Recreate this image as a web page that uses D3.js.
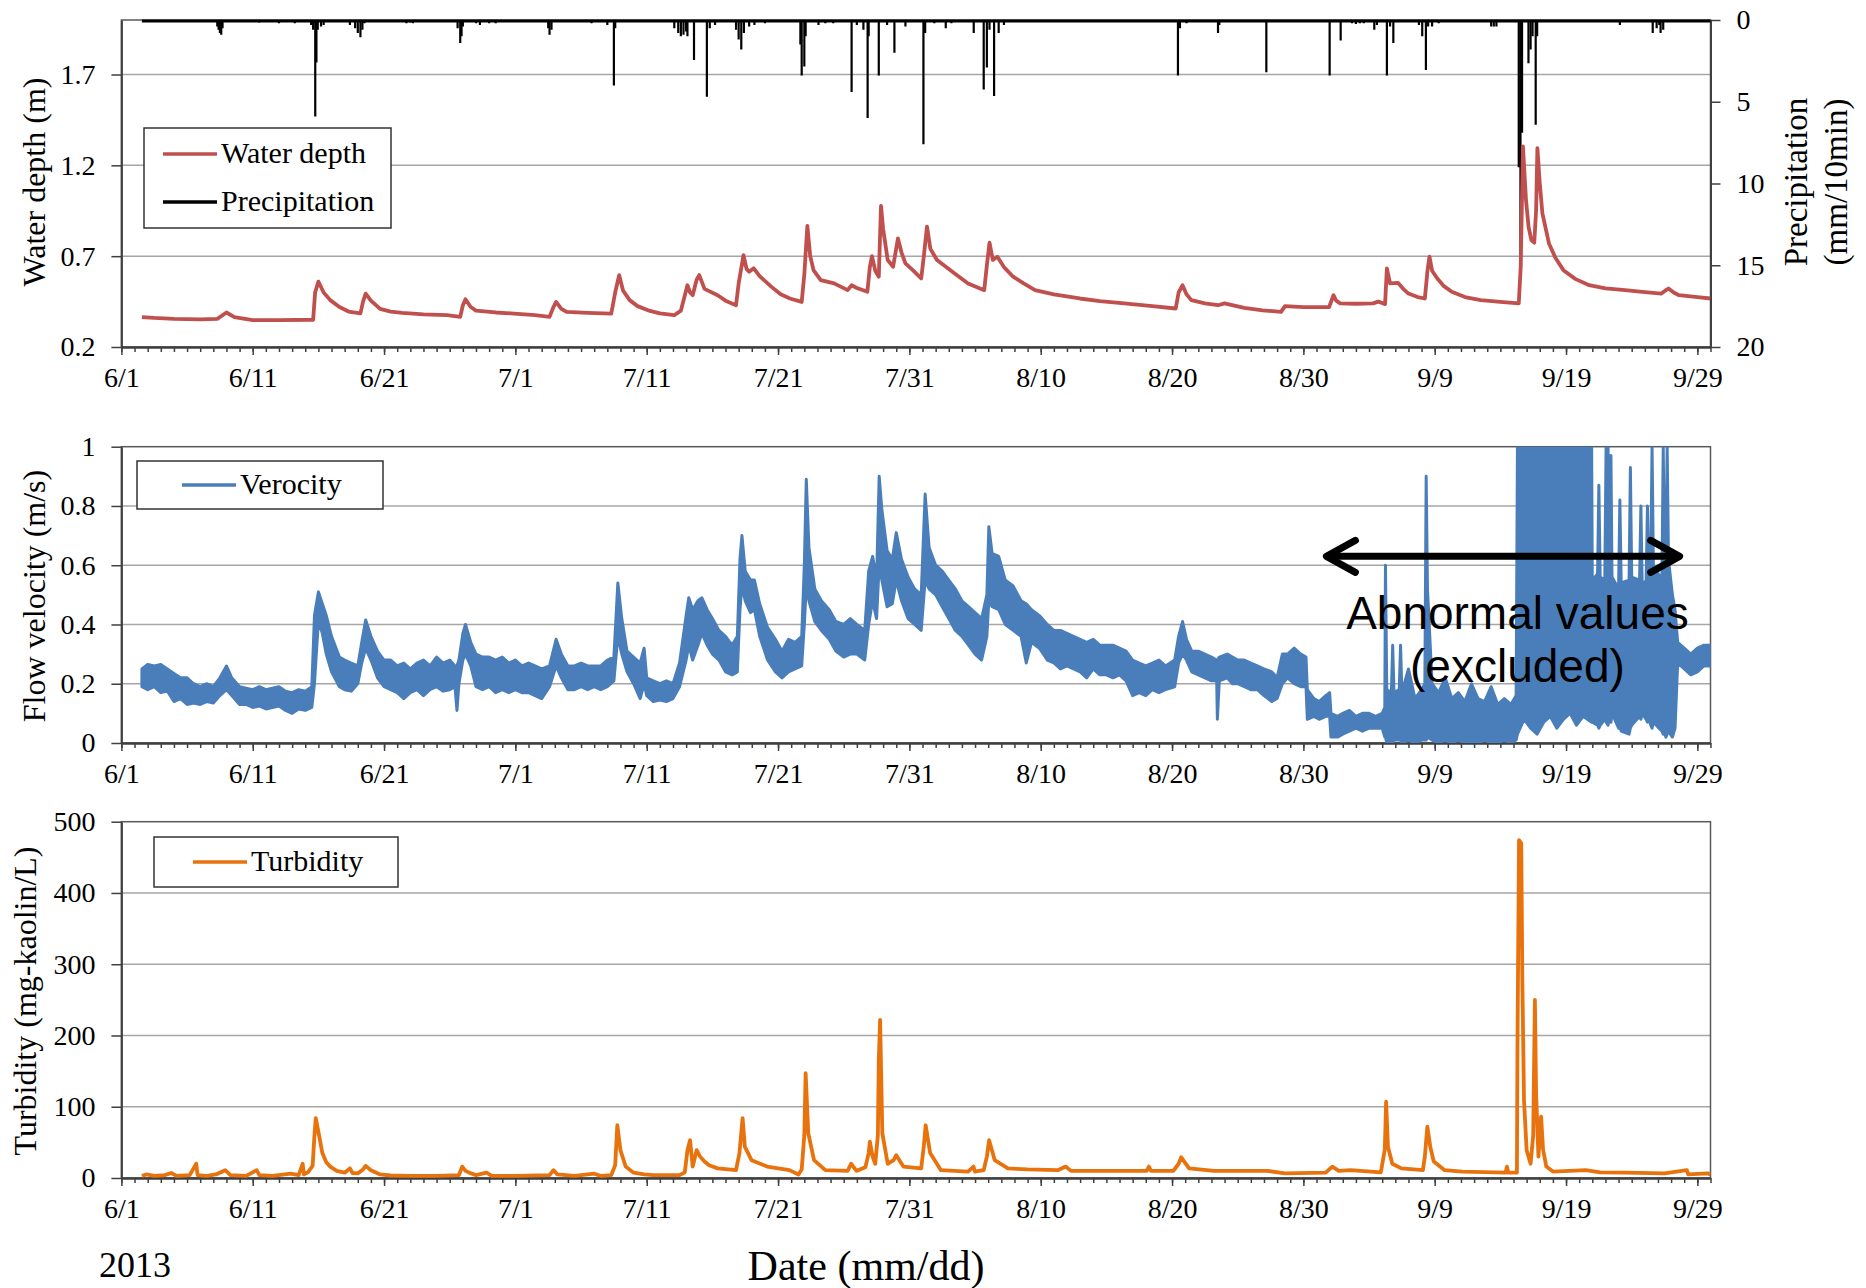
<!DOCTYPE html>
<html>
<head>
<meta charset="utf-8">
<script src="https://cdnjs.cloudflare.com/ajax/libs/d3/7.8.5/d3.min.js"></script>
<style>
body { margin: 0; background: #fff; }
svg text { font-family: 'Liberation Serif', 'Times New Roman', serif; fill: #000; }
</style>
</head>
<body>
<div id="chart"></div>
<script>
// days counted from 6/1 00:00 (2013)
const dateLabels = ['6/1', '6/11', '6/21', '7/1', '7/11', '7/21', '7/31', '8/10', '8/20', '8/30', '9/9', '9/19', '9/29'];
const dateLabelDays = [0, 10, 20, 30, 40, 50, 60, 70, 80, 90, 100, 110, 120];

const depthTicks = [0.2, 0.7, 1.2, 1.7];
const precipTicks = [0, 5, 10, 15, 20];
const velTicks = [0, 0.2, 0.4, 0.6, 0.8, 1];
const turbTicks = [0, 100, 200, 300, 400, 500];

// water depth (m): [day, value]
const depth = [
  [1.56, 0.365], [2.5, 0.36], [4, 0.355], [6, 0.352], [7.3, 0.355], [8.0, 0.39], [8.6, 0.365], [10, 0.348],
  [12, 0.348], [14.6, 0.35], [14.75, 0.50], [15.0, 0.56], [15.4, 0.50], [15.9, 0.458], [16.6, 0.42],
  [17.3, 0.395], [18.2, 0.385], [18.4, 0.45], [18.6, 0.494], [19.0, 0.455], [19.7, 0.41], [20.5, 0.395],
  [21.4, 0.388], [23, 0.38], [24.8, 0.375], [25.8, 0.366], [26.0, 0.43], [26.2, 0.463], [26.6, 0.42],
  [27.0, 0.40], [28.5, 0.39], [29.9, 0.384], [31.5, 0.375], [32.6, 0.366], [32.9, 0.42], [33.1, 0.448],
  [33.5, 0.41], [33.9, 0.393], [35.5, 0.388], [37.3, 0.384], [37.6, 0.50], [37.9, 0.596], [38.2, 0.51],
  [38.7, 0.458], [39.3, 0.425], [40.1, 0.402], [41, 0.385], [42.1, 0.375], [42.6, 0.40], [43.1, 0.54],
  [43.3, 0.50], [43.5, 0.485], [43.8, 0.57], [44.0, 0.596], [44.4, 0.52], [45.4, 0.485], [46.0, 0.455],
  [46.8, 0.43], [47.0, 0.55], [47.37, 0.706], [47.6, 0.63], [47.8, 0.614], [48.15, 0.633], [48.6, 0.59],
  [49.5, 0.531], [50.2, 0.49], [50.9, 0.467], [51.8, 0.448], [52.0, 0.6], [52.23, 0.866], [52.45, 0.7],
  [52.7, 0.623], [53.25, 0.568], [54.27, 0.55], [55.3, 0.513], [55.6, 0.54], [56.0, 0.525], [56.8, 0.504],
  [56.99, 0.64], [57.15, 0.70], [57.4, 0.62], [57.67, 0.587], [57.84, 0.977], [58.0, 0.85], [58.35, 0.679],
  [58.76, 0.642], [59.13, 0.798], [59.4, 0.72], [59.7, 0.66], [60.3, 0.62], [60.9, 0.577], [61.1, 0.70],
  [61.34, 0.863], [61.6, 0.74], [62.1, 0.679], [62.8, 0.64], [63.45, 0.605], [64.47, 0.55], [65.7, 0.513],
  [65.9, 0.65], [66.1, 0.774], [66.35, 0.68], [66.7, 0.697], [67.2, 0.64], [67.9, 0.587], [68.7, 0.55],
  [69.57, 0.513], [71, 0.49], [72.97, 0.467], [74.5, 0.453], [76.37, 0.44], [78.5, 0.425], [80.28, 0.412],
  [80.5, 0.50], [80.8, 0.54], [81.1, 0.49], [81.47, 0.458], [82.5, 0.44], [83.5, 0.43], [84.0, 0.44],
  [85.5, 0.415], [86.9, 0.402], [88.3, 0.393], [88.6, 0.425], [90.0, 0.42], [91.96, 0.42], [92.29, 0.485],
  [92.5, 0.455], [92.8, 0.44], [94, 0.438], [95.3, 0.44], [95.7, 0.45], [96.22, 0.436], [96.36, 0.633],
  [96.6, 0.55], [97.2, 0.553], [97.6, 0.52], [98.0, 0.494], [98.7, 0.475], [99.25, 0.467], [99.45, 0.62],
  [99.6, 0.697], [99.8, 0.62], [100.2, 0.577], [100.7, 0.535], [101.3, 0.504], [102.3, 0.475], [103.5, 0.458],
  [105, 0.448], [106.4, 0.44], [106.55, 0.642], [106.72, 1.304], [106.95, 1.01], [107.15, 0.86], [107.36, 0.789],
  [107.58, 0.774], [107.72, 0.95], [107.82, 1.295], [108.0, 1.10], [108.2, 0.936], [108.7, 0.77], [109.2, 0.69],
  [109.8, 0.623], [110.7, 0.575], [111.76, 0.54], [113, 0.523], [114.5, 0.513], [116, 0.502], [117.26, 0.494],
  [117.55, 0.51], [117.8, 0.522], [118.2, 0.50], [118.6, 0.485], [120, 0.475], [121, 0.467]
];

// precipitation (mm/10min): [day, value]
const precip = [
  [1.8, 0.1], [2.5, 0.1], [4.5, 0.1], [7.3, 0.4], [7.4, 0.6], [7.5, 0.8], [7.6, 0.9], [7.7, 0.5],
  [10.5, 0.15], [12.0, 0.2], [13.2, 0.2], [14.45, 0.3], [14.6, 0.6], [14.76, 5.9], [14.85, 2.6], [14.95, 0.6],
  [15.2, 0.4], [15.4, 0.3], [17.4, 0.3], [17.8, 0.5], [18.0, 0.8], [18.2, 1.05], [18.35, 0.6], [18.5, 0.2],
  [21.7, 0.2], [22.0, 0.15], [22.2, 0.2], [25.6, 0.5], [25.8, 1.4], [25.9, 1.0], [26.0, 0.4],
  [27.0, 0.2], [27.3, 0.3], [28.0, 0.2], [28.5, 0.2], [32.5, 0.5], [32.6, 0.9], [32.75, 0.6],
  [35.8, 0.2], [37.0, 0.3], [37.5, 4.0], [37.6, 0.5], [41.3, 0.1], [42.1, 0.5], [42.4, 0.8], [42.6, 1.0],
  [42.8, 0.9], [43.0, 0.7], [43.1, 1.0], [43.6, 2.45], [44.58, 4.7], [44.8, 0.5], [45.2, 0.3],
  [46.8, 0.6], [47.0, 1.2], [47.2, 1.8], [47.4, 0.8], [47.8, 0.4], [48.2, 0.3], [49.0, 0.2],
  [51.7, 1.5], [51.8, 3.4], [52.0, 2.85], [52.1, 1.0], [53.08, 0.3], [53.6, 0.2], [54.2, 0.2],
  [55.6, 4.4], [56.0, 0.3], [56.5, 0.6], [56.82, 6.0], [56.9, 1.0], [57.67, 3.4], [58.3, 0.3],
  [58.86, 2.0], [59.7, 0.4], [61.07, 7.6], [61.2, 0.8], [61.9, 0.2], [62.77, 0.5], [63.2, 0.2],
  [64.9, 0.8], [65.66, 4.25], [65.9, 2.9], [66.1, 0.6], [66.45, 4.65], [66.8, 0.8], [67.2, 0.3],
  [80.45, 3.4], [80.6, 0.5], [81.1, 0.2], [83.5, 0.8], [83.6, 0.3], [85.4, 0.1], [87.18, 3.2],
  [92.0, 3.4], [92.84, 1.26], [93.7, 0.2], [94.0, 0.25], [94.3, 0.2], [94.6, 0.2], [95.4, 0.6], [95.6, 0.3],
  [96.36, 3.4], [96.6, 0.4], [96.85, 1.4], [98.8, 0.3], [99.05, 1.0], [99.33, 3.06], [99.5, 0.4],
  [99.8, 0.4], [100.3, 0.2], [104.3, 0.4], [104.5, 0.4], [104.7, 0.4], [106.4, 9.0], [106.53, 15.2],
  [106.65, 6.9], [107.14, 2.65], [107.3, 1.8], [107.45, 1.0], [107.69, 6.4], [107.8, 1.0],
  [114.1, 0.3], [116.6, 0.8], [116.9, 0.5], [117.1, 0.3], [117.2, 0.8], [117.4, 0.6]
];

// flow velocity (m/s): [day, low, high] of the noisy band
const velocity = [
  [1.56, 0.19, 0.25], [2.0, 0.18, 0.265], [2.5, 0.19, 0.26], [3.0, 0.17, 0.265], [3.5, 0.175, 0.25],
  [4.0, 0.14, 0.235], [4.5, 0.15, 0.22], [5.0, 0.13, 0.22], [5.5, 0.135, 0.20], [6.0, 0.13, 0.19],
  [6.5, 0.14, 0.2], [7.0, 0.135, 0.19], [7.5, 0.16, 0.22], [8.0, 0.18, 0.26], [8.4, 0.16, 0.22],
  [9.0, 0.13, 0.19], [9.5, 0.13, 0.185], [10.0, 0.12, 0.18], [10.5, 0.125, 0.19], [11.0, 0.115, 0.18],
  [11.5, 0.12, 0.185], [12.0, 0.125, 0.19], [12.5, 0.11, 0.175], [13.0, 0.10, 0.17], [13.5, 0.115, 0.18],
  [14.0, 0.11, 0.175], [14.5, 0.12, 0.19], [14.7, 0.2, 0.43], [15.0, 0.41, 0.51], [15.3, 0.37, 0.47],
  [15.6, 0.30, 0.43], [16.0, 0.24, 0.36], [16.6, 0.19, 0.29], [17.0, 0.18, 0.28], [17.5, 0.175, 0.27],
  [18.0, 0.20, 0.26], [18.3, 0.27, 0.34], [18.6, 0.32, 0.415], [19.0, 0.28, 0.36], [19.5, 0.22, 0.31],
  [20.0, 0.19, 0.28], [20.5, 0.18, 0.28], [21.0, 0.17, 0.26], [21.5, 0.15, 0.27], [22.0, 0.17, 0.25],
  [22.5, 0.18, 0.27], [23.0, 0.16, 0.28], [23.5, 0.18, 0.26], [24.0, 0.19, 0.29], [24.5, 0.175, 0.27],
  [25.0, 0.18, 0.28], [25.4, 0.19, 0.26], [25.55, 0.11, 0.26], [25.7, 0.2, 0.28], [26.0, 0.28, 0.37],
  [26.2, 0.30, 0.40], [26.6, 0.26, 0.34], [27.0, 0.19, 0.30], [27.5, 0.18, 0.29], [28.0, 0.19, 0.29],
  [28.5, 0.17, 0.28], [29.0, 0.18, 0.29], [29.5, 0.17, 0.27], [30.0, 0.18, 0.28], [30.5, 0.17, 0.26],
  [31.0, 0.17, 0.27], [31.5, 0.16, 0.26], [32.0, 0.15, 0.25], [32.6, 0.19, 0.26], [33.1, 0.26, 0.35],
  [33.5, 0.22, 0.30], [34.0, 0.18, 0.26], [34.5, 0.18, 0.26], [35.0, 0.19, 0.27], [35.5, 0.18, 0.26],
  [36.0, 0.19, 0.26], [36.5, 0.18, 0.26], [37.0, 0.19, 0.28], [37.5, 0.21, 0.29], [37.8, 0.36, 0.54],
  [38.1, 0.30, 0.42], [38.5, 0.24, 0.31], [39.0, 0.20, 0.29], [39.5, 0.15, 0.27], [39.8, 0.20, 0.32],
  [40.0, 0.16, 0.22], [40.5, 0.14, 0.21], [41.0, 0.145, 0.20], [41.5, 0.14, 0.21], [42.0, 0.15, 0.20],
  [42.5, 0.19, 0.27], [43.0, 0.28, 0.43], [43.2, 0.33, 0.49], [43.5, 0.28, 0.45], [43.9, 0.33, 0.48],
  [44.2, 0.37, 0.49], [44.6, 0.33, 0.45], [45.0, 0.30, 0.42], [45.5, 0.28, 0.38], [46.0, 0.24, 0.36],
  [46.5, 0.23, 0.33], [46.9, 0.24, 0.36], [47.1, 0.45, 0.62], [47.25, 0.53, 0.70], [47.5, 0.48, 0.58],
  [47.9, 0.44, 0.55], [48.2, 0.45, 0.55], [48.6, 0.36, 0.47], [49.2, 0.28, 0.39], [49.8, 0.24, 0.35],
  [50.3, 0.22, 0.31], [50.8, 0.24, 0.35], [51.3, 0.25, 0.34], [51.8, 0.26, 0.36], [52.0, 0.40, 0.60],
  [52.15, 0.53, 0.89], [52.35, 0.48, 0.66], [52.8, 0.41, 0.52], [53.3, 0.38, 0.48], [53.9, 0.35, 0.45],
  [54.4, 0.31, 0.41], [55.0, 0.29, 0.40], [55.5, 0.30, 0.42], [56.0, 0.30, 0.40], [56.6, 0.28, 0.38],
  [56.9, 0.40, 0.58], [57.2, 0.48, 0.63], [57.5, 0.42, 0.55], [57.7, 0.60, 0.90], [57.9, 0.55, 0.79],
  [58.3, 0.46, 0.65], [58.7, 0.47, 0.62], [59.0, 0.55, 0.71], [59.4, 0.48, 0.62], [59.9, 0.42, 0.56],
  [60.4, 0.40, 0.52], [60.9, 0.38, 0.50], [61.2, 0.55, 0.84], [61.5, 0.52, 0.66], [62.0, 0.50, 0.60],
  [62.5, 0.46, 0.58], [63.0, 0.42, 0.55], [63.5, 0.38, 0.52], [64.0, 0.36, 0.48], [64.5, 0.33, 0.46],
  [65.0, 0.30, 0.44], [65.5, 0.28, 0.42], [65.9, 0.36, 0.50], [66.05, 0.48, 0.73], [66.3, 0.46, 0.64],
  [66.8, 0.45, 0.63], [67.3, 0.40, 0.55], [67.9, 0.38, 0.53], [68.5, 0.36, 0.48], [68.9, 0.27, 0.47],
  [69.3, 0.34, 0.45], [69.9, 0.32, 0.43], [70.5, 0.28, 0.40], [71.0, 0.27, 0.38], [71.5, 0.25, 0.38],
  [72.0, 0.26, 0.37], [72.5, 0.25, 0.36], [73.0, 0.24, 0.35], [73.5, 0.22, 0.34], [74.0, 0.25, 0.35],
  [74.5, 0.23, 0.33], [75.0, 0.23, 0.33], [75.5, 0.22, 0.33], [76.0, 0.23, 0.32], [76.5, 0.21, 0.31],
  [77.0, 0.16, 0.28], [77.5, 0.17, 0.27], [78.0, 0.16, 0.26], [78.5, 0.18, 0.27], [79.0, 0.17, 0.28],
  [79.5, 0.18, 0.26], [80.2, 0.19, 0.28], [80.5, 0.27, 0.36], [80.8, 0.30, 0.41], [81.1, 0.28, 0.35],
  [81.5, 0.24, 0.31], [82.0, 0.23, 0.31], [82.5, 0.22, 0.30], [83.0, 0.21, 0.29], [83.4, 0.21, 0.28],
  [83.45, 0.08, 0.28], [83.6, 0.21, 0.29], [84.2, 0.22, 0.30], [84.6, 0.20, 0.29], [85.0, 0.20, 0.28],
  [85.5, 0.19, 0.28], [86.0, 0.18, 0.27], [86.5, 0.18, 0.26], [87.0, 0.16, 0.25], [87.6, 0.14, 0.24],
  [88.0, 0.15, 0.22], [88.4, 0.20, 0.30], [88.8, 0.22, 0.30], [89.3, 0.20, 0.32], [89.8, 0.19, 0.30],
  [90.2, 0.19, 0.29], [90.3, 0.08, 0.18], [90.8, 0.09, 0.15], [91.2, 0.08, 0.14], [91.7, 0.09, 0.16],
  [92.0, 0.09, 0.17], [92.1, 0.02, 0.10], [92.6, 0.02, 0.09], [93.0, 0.03, 0.10], [93.5, 0.04, 0.11],
  [94.0, 0.05, 0.09], [94.5, 0.04, 0.10], [95.0, 0.05, 0.10], [95.5, 0.05, 0.09], [96.0, 0.05, 0.10],
  [96.2, 0.02, 0.12], [96.25, 0.02, 0.60], [96.35, 0.0, 0.18], [96.7, 0.0, 0.17], [96.8, 0.0, 0.33],
  [96.9, 0.01, 0.17], [97.3, 0.01, 0.18], [97.4, 0.01, 0.33], [97.5, 0.0, 0.17], [98.0, 0.01, 0.25],
  [98.5, 0.0, 0.15], [99.0, 0.01, 0.18], [99.25, 0.01, 0.2], [99.35, 0.01, 0.90], [99.45, 0.02, 0.52],
  [99.8, 0.01, 0.20], [100.3, 0.0, 0.17], [100.8, 0.01, 0.22], [101.3, 0.0, 0.15], [101.8, 0.01, 0.17],
  [102.3, 0.0, 0.14], [102.8, 0.0, 0.20], [103.3, 0.0, 0.15], [103.8, 0.01, 0.14], [104.3, 0.0, 0.19],
  [104.8, 0.0, 0.13], [105.3, 0.01, 0.15], [105.8, 0.0, 0.13], [106.2, 0.01, 0.16],
  [106.3, 0.03, 1.0], [106.8, 0.08, 1.0], [107.3, 0.05, 1.0], [107.8, 0.03, 1.0], [108.3, 0.07, 1.0],
  [108.8, 0.09, 1.0], [109.3, 0.05, 1.0], [109.8, 0.08, 1.0], [110.3, 0.1, 1.0], [110.8, 0.06, 1.0],
  [111.3, 0.09, 1.0], [111.95, 0.07, 1.0], [112.0, 0.07, 0.55], [112.4, 0.06, 0.57], [112.5, 0.05, 0.87],
  [112.6, 0.06, 0.56], [112.95, 0.08, 0.55], [113.05, 0.07, 1.0], [113.2, 0.06, 1.0], [113.3, 0.1, 0.55],
  [113.35, 0.08, 0.58], [113.42, 0.07, 0.97], [113.5, 0.1, 0.56], [114.0, 0.05, 0.52], [114.1, 0.06, 0.82],
  [114.2, 0.04, 0.54], [114.8, 0.03, 0.55], [114.9, 0.05, 0.93], [115.0, 0.06, 0.56], [115.6, 0.09, 0.55],
  [115.7, 0.08, 0.80], [115.8, 0.1, 0.53], [116.1, 0.08, 0.55], [116.2, 0.07, 0.80], [116.3, 0.09, 0.56],
  [116.45, 0.06, 0.6], [116.55, 0.05, 1.0], [116.65, 0.07, 0.6], [117.3, 0.04, 0.55], [117.4, 0.03, 1.0],
  [117.5, 0.04, 0.62], [117.6, 0.02, 0.6], [117.7, 0.03, 1.0], [117.8, 0.04, 0.62], [118.1, 0.02, 0.5],
  [118.3, 0.05, 0.45], [118.5, 0.27, 0.34], [119.0, 0.25, 0.32], [119.5, 0.23, 0.30], [120.0, 0.24, 0.32],
  [120.5, 0.26, 0.33], [121.0, 0.26, 0.33]
];

// turbidity (mg-kaolin/L): [day, value]
const turbidity = [
  [1.56, 3], [1.9, 5], [2.5, 3], [3.3, 4], [3.8, 7], [4.2, 3], [5.2, 4], [5.7, 20], [5.8, 4], [6.5, 3],
  [7.2, 5], [7.9, 11], [8.3, 4], [9.5, 3], [10.3, 11], [10.5, 4], [11.5, 3], [12.9, 6], [13.5, 4],
  [13.8, 20], [13.9, 5], [14.2, 8], [14.56, 17], [14.7, 60], [14.8, 84], [15.07, 58], [15.3, 35],
  [15.6, 22], [15.9, 16], [16.4, 10], [17.0, 7.5], [17.4, 13.5], [17.6, 7], [18.0, 6.5], [18.4, 12],
  [18.6, 17], [19.0, 11], [19.7, 5], [20.5, 3.5], [22, 3], [24, 3], [25.7, 4], [25.95, 16], [26.2, 10],
  [26.5, 7.5], [27.0, 4], [27.8, 7.5], [28.2, 3], [30, 3], [32.6, 4], [32.9, 11], [33.2, 5], [34.5, 3],
  [36.0, 6], [36.5, 3], [37.3, 4], [37.6, 18], [37.76, 74], [38.0, 39], [38.4, 16], [39.0, 7.5],
  [39.8, 5], [40.5, 4], [42.5, 4], [42.9, 8], [43.1, 39], [43.3, 53], [43.5, 16], [43.8, 39], [44.07, 30],
  [44.4, 23], [44.75, 18], [45.4, 13.5], [46.8, 11], [47.06, 35], [47.3, 84], [47.47, 44], [47.98, 25],
  [49.17, 16], [50.87, 11], [51.55, 5], [51.8, 12], [52.0, 60], [52.1, 147], [52.3, 63], [52.74, 25],
  [53.6, 11], [55.3, 10], [55.56, 20], [55.97, 10], [56.65, 15], [56.9, 35], [56.99, 51], [57.2, 30],
  [57.4, 20], [57.6, 60], [57.67, 165], [57.77, 222], [57.94, 63], [58.35, 20], [58.8, 25], [59.0, 32],
  [59.54, 16], [60.9, 13.5], [61.1, 45], [61.24, 74], [61.58, 35], [62.4, 11], [64.47, 9], [64.88, 16],
  [65.0, 9], [65.3, 10], [65.66, 11], [65.9, 30], [66.07, 53], [66.5, 25], [67.5, 13.5], [69, 12],
  [71.3, 11], [71.9, 16], [72.3, 10], [78.07, 10], [78.24, 16], [78.4, 10], [80.1, 10], [80.5, 20],
  [80.7, 29], [81.3, 13.5], [83.2, 10], [87.25, 10], [88.6, 6.5], [91.7, 7.5], [92.2, 16], [92.7, 10],
  [93.6, 11], [95.9, 8], [96.2, 40], [96.3, 107], [96.44, 44], [96.77, 20], [97.46, 13.5], [99.1, 11],
  [99.25, 30], [99.44, 72], [99.66, 44], [99.93, 23], [100.76, 11], [102.1, 9], [105.4, 7.5], [105.5, 16],
  [105.6, 7.5], [106.26, 7.5], [106.3, 180], [106.42, 474], [106.59, 470], [106.67, 282], [106.8, 109],
  [107.0, 39], [107.3, 20], [107.5, 60], [107.63, 250], [107.72, 119], [107.9, 30], [108.1, 86],
  [108.25, 40], [108.5, 16], [109.0, 9], [111.5, 11], [112.6, 8], [114.5, 7.5], [117.5, 6.5], [119.2, 11],
  [119.3, 5], [120.8, 6.5], [121, 5]
];

// annotation of the excluded velocity period, in data units
const abnormalSpan = [91.6, 118.8];
const abnormalLevel = 0.63;

const W = 1866, H = 1288;
const svg = d3.select('#chart').append('svg').attr('width', W).attr('height', H);
svg.append('rect').attr('width', W).attr('height', H).attr('fill', '#fff');

const x = d3.scaleLinear().domain([0, 121]).range([121.4, 1710.5]);
const AXIS = '#404040', GRID = '#a6a6a6';
const SERIF = "'Liberation Serif', 'Times New Roman', serif";

function styleAxis(g) {
  g.attr('font-family', SERIF).attr('font-size', 28);
  g.select('.domain').attr('stroke', AXIS).attr('stroke-width', 2);
  g.selectAll('.tick line').attr('stroke', AXIS).attr('stroke-width', 1.5);
  g.selectAll('.tick text').attr('fill', '#000');
}

// one panel: frame, grid, axes; returns the y scale
function panel(top, bottom, domain, ticks, grid, fmt, id) {
  const y = d3.scaleLinear().domain(domain).range([bottom, top]);

  svg.append('clipPath').attr('id', id)
    .append('rect').attr('x', x(0)).attr('y', top).attr('width', x(121) - x(0)).attr('height', bottom - top);

  svg.append('g').selectAll('line').data(grid).enter().append('line')
    .attr('x1', x(0)).attr('x2', x(121))
    .attr('y1', d => y(d)).attr('y2', d => y(d))
    .attr('stroke', GRID).attr('stroke-width', 1.5);

  svg.append('rect')
    .attr('x', x(0)).attr('y', top).attr('width', x(121) - x(0)).attr('height', bottom - top)
    .attr('fill', 'none').attr('stroke', '#595959').attr('stroke-width', 1.5);

  // daily minor ticks, labelled major ticks every 10 days
  svg.append('g').attr('transform', `translate(0,${bottom})`)
    .call(d3.axisBottom(x).tickValues(d3.range(0, 122)).tickSize(5).tickSizeOuter(0).tickFormat(''))
    .call(styleAxis);
  svg.append('g').attr('transform', `translate(0,${bottom})`)
    .call(d3.axisBottom(x).tickValues(dateLabelDays).tickSize(8).tickSizeOuter(0).tickPadding(12)
      .tickFormat((d, i) => dateLabels[i]))
    .call(styleAxis);

  svg.append('g').attr('transform', `translate(${x(0)},0)`)
    .call(d3.axisLeft(y).tickValues(ticks).tickSize(10).tickSizeOuter(0).tickPadding(16).tickFormat(fmt))
    .call(styleAxis);
  return y;
}

function legendBox(bx, by, bw, bh, items) {
  const g = svg.append('g');
  g.append('rect').attr('x', bx).attr('y', by).attr('width', bw).attr('height', bh)
    .attr('fill', '#fff').attr('stroke', '#333').attr('stroke-width', 1.5);
  items.forEach(it => {
    g.append('line').attr('x1', it.x).attr('x2', it.x + 54).attr('y1', it.y).attr('y2', it.y)
      .attr('stroke', it.color).attr('stroke-width', 3.5);
    g.append('text').attr('x', it.x + 58).attr('y', it.y + 9).attr('font-size', 30).text(it.label);
  });
}

function vTitle(cx, cy, size, label) {
  svg.append('text')
    .attr('transform', `translate(${cx},${cy}) rotate(-90)`)
    .attr('text-anchor', 'middle').attr('dominant-baseline', 'central')
    .attr('font-size', size).text(label);
}

// ---------- panel 1: water depth + precipitation ----------
const yDepth = panel(20, 347, [0.2, 2.0], depthTicks, [0.7, 1.2, 1.7], d => d.toFixed(1), 'clip1');
const yRain = d3.scaleLinear().domain([0, 20]).range([20, 347]);

svg.append('g').attr('transform', `translate(${x(121)},0)`)
  .call(d3.axisRight(yRain).tickValues(precipTicks).tickSize(10).tickSizeOuter(0).tickPadding(16))
  .call(styleAxis);

svg.append('g').attr('clip-path', 'url(#clip1)')
  .selectAll('line').data(precip).enter().append('line')
  .attr('x1', d => x(d[0])).attr('x2', d => x(d[0]))
  .attr('y1', yRain(0)).attr('y2', d => yRain(d[1]))
  .attr('stroke', '#000').attr('stroke-width', 2.2);
svg.append('line').attr('x1', x(1.56)).attr('x2', x(121)).attr('y1', yRain(0) + 1).attr('y2', yRain(0) + 1)
  .attr('stroke', '#000').attr('stroke-width', 3);

svg.append('path').datum(depth).attr('clip-path', 'url(#clip1)')
  .attr('d', d3.line().x(d => x(d[0])).y(d => yDepth(d[1])))
  .attr('fill', 'none').attr('stroke', '#C0504D').attr('stroke-width', 3.8).attr('stroke-linejoin', 'round');

legendBox(144, 128, 247, 100, [
  { x: 163, y: 154, color: '#C0504D', label: 'Water depth' },
  { x: 163, y: 202, color: '#000', label: 'Precipitation' }
]);

// ---------- panel 2: flow velocity ----------
const yVel = panel(446.7, 743, [0, 1], velTicks, [0.2, 0.4, 0.6, 0.8],
  d => (d === 0 || d === 1) ? String(d) : d.toFixed(1), 'clip2');

svg.append('path').datum(velocity).attr('clip-path', 'url(#clip2)')
  .attr('d', d3.area().x(d => x(d[0])).y0(d => yVel(d[1])).y1(d => yVel(d[2])))
  .attr('fill', '#4A7EBB').attr('stroke', '#4A7EBB').attr('stroke-width', 3).attr('stroke-linejoin', 'round');

legendBox(137, 461, 246, 48, [{ x: 182, y: 485, color: '#4A7EBB', label: 'Verocity' }]);

// arrow + note over the excluded period
const ay = yVel(abnormalLevel), ax0 = x(abnormalSpan[0]), ax1 = x(abnormalSpan[1]);
const arrow = svg.append('g').attr('stroke', '#000').attr('stroke-width', 7)
  .attr('fill', 'none').attr('stroke-linecap', 'round').attr('stroke-linejoin', 'round');
arrow.append('line').attr('x1', ax0 + 4).attr('x2', ax1 - 4).attr('y1', ay).attr('y2', ay);
arrow.append('path').attr('d', `M${ax0 + 31},${ay - 16}L${ax0 + 2},${ay}L${ax0 + 31},${ay + 16}`);
arrow.append('path').attr('d', `M${ax1 - 31},${ay - 16}L${ax1 - 2},${ay}L${ax1 - 31},${ay + 16}`);

const noteX = x(106.3);
const noteFont = "'Liberation Sans', Arial, sans-serif";
svg.append('text').attr('x', noteX).attr('y', yVel(0.385)).attr('text-anchor', 'middle')
  .style('font-family', noteFont).attr('font-size', 46).text('Abnormal values');
svg.append('text').attr('x', noteX).attr('y', yVel(0.205)).attr('text-anchor', 'middle')
  .style('font-family', noteFont).attr('font-size', 46).text('(excluded)');

// ---------- panel 3: turbidity ----------
const yTurb = panel(821.7, 1178, [0, 500], turbTicks, [100, 200, 300, 400], d => String(d), 'clip3');

svg.append('path').datum(turbidity).attr('clip-path', 'url(#clip3)')
  .attr('d', d3.line().x(d => x(d[0])).y(d => yTurb(d[1])))
  .attr('fill', 'none').attr('stroke', '#E8720C').attr('stroke-width', 3.8).attr('stroke-linejoin', 'round');

legendBox(154, 837, 244, 50, [{ x: 193, y: 862, color: '#E8720C', label: 'Turbidity' }]);

// ---------- titles ----------
vTitle(33.5, 182, 32, 'Water depth (m)');
vTitle(1796, 182, 33, 'Precipitation');
vTitle(1836, 182, 33, '(mm/10min)');
vTitle(33.5, 596, 32, 'Flow velocity (m/s)');
vTitle(24.5, 1001, 32, 'Turbidity (mg-kaolin/L)');

svg.append('text').attr('x', 99).attr('y', 1277).attr('font-size', 36).text('2013');
svg.append('text').attr('x', 866).attr('y', 1280).attr('text-anchor', 'middle').attr('font-size', 42).text('Date (mm/dd)');
</script>
</body>
</html>
